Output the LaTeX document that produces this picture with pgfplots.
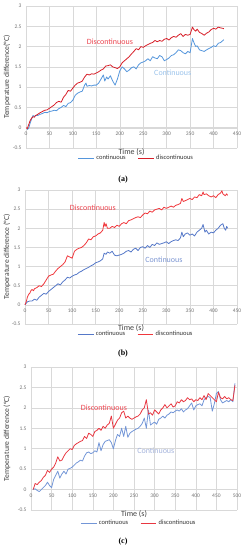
\documentclass[border=0pt]{standalone}
\usepackage{pgfplots}
\pgfplotsset{compat=1.18}
\usepackage{fontspec}
\setmainfont{Carlito}
\newfontfamily\capfont{Liberation Serif}
\definecolor{gridc}{RGB}{217,217,217}
\definecolor{tickc}{RGB}{115,115,115}
\definecolor{redA}{RGB}{215,30,40}
\definecolor{blueA}{RGB}{85,150,220}
\definecolor{redB}{RGB}{240,55,60}
\definecolor{blueB}{RGB}{85,120,200}
\definecolor{redC}{RGB}{232,55,65}
\definecolor{blueC}{RGB}{115,150,215}
\definecolor{annR}{RGB}{235,70,80}
\definecolor{annBA}{RGB}{155,195,235}
\definecolor{annBB}{RGB}{125,150,210}
\definecolor{annBC}{RGB}{165,180,220}
\pgfplotsset{
  panel/.style={
    scale only axis,
    axis x line=middle, axis y line=left,
    axis line style={draw=gridc,-},
    every inner x axis line/.append style={-},
    every outer y axis line/.append style={-},
    hide obscured x ticks=false, hide obscured y ticks=false,
    major tick length=0pt,
    grid=major, grid style={draw=gridc, line width=0.5pt},
    ymin=-0.5, ymax=3, ytick={-0.5,0,0.5,1,1.5,2,2.5,3},
    /pgf/number format/assume math mode=true,
    tick label style={font=\fontsize{5.5}{6}\selectfont, text=tickc},
    xticklabel style={anchor=north, yshift=-1pt},
    yticklabel style={anchor=east, xshift=-1pt},
    xlabel={Time (s)},
    x label style={at={(axis description cs:0.5,0)}, anchor=center, yshift=-4pt, font=\fontsize{8}{9}\selectfont, text=black!75},
    y label style={at={(axis description cs:0,0.5)}, anchor=center, font=\fontsize{7.6}{9}\selectfont, text=black!75},
    legend style={at={(axis description cs:0.5,0)}, anchor=center, yshift=-10pt, xshift=5pt, draw=none, fill=none,
      legend columns=2, font=\fontsize{6.5}{7}\selectfont, text=black!80,
      /tikz/every even column/.append style={column sep=10pt}},
    legend image code/.code={\draw[#1] (0cm,0cm) -- (0.55cm,0cm);},
    every axis plot/.append style={line width=0.8pt, line join=round},
    clip=false,
  }
}
\begin{document}
\begin{tikzpicture}
\useasboundingbox (0,0) rectangle (246pt,-550pt);
% ---------------- (a)
\begin{axis}[panel, at={(26pt,-148pt)}, anchor=south west, width=211pt, height=142pt,
  xmin=0, xmax=450, xtick={0,50,...,450},
  ylabel={Temperature difference(°C)}, y label style={yshift=19pt}]
\addplot[color=blueA] coordinates {(3,-0.05)(6,0.0)(8,0.08)(10,0.15)(13,0.25)(15,0.3)(18,0.27)(20,0.3)(25,0.3)(30,0.33)(35,0.35)(40,0.38)(45,0.37)(50,0.4)(55,0.41)(60,0.43)(65,0.42)(70,0.47)(75,0.5)(80,0.55)(85,0.52)(90,0.6)(95,0.62)(100,0.68)(105,0.8)(110,0.85)(115,0.88)(120,0.9)(125,1.05)(128,1.1)(130,1.02)(135,1.04)(140,1.03)(145,1.05)(150,1.05)(155,1.1)(160,1.2)(165,1.3)(168,1.15)(172,1.25)(175,1.2)(180,1.28)(185,1.15)(190,1.05)(195,1.2)(200,1.4)(205,1.5)(210,1.45)(215,1.38)(220,1.42)(225,1.48)(230,1.5)(235,1.45)(240,1.55)(245,1.6)(250,1.62)(255,1.65)(260,1.7)(265,1.65)(270,1.75)(275,1.72)(280,1.7)(285,1.78)(290,1.75)(295,1.65)(300,1.68)(305,1.72)(310,1.78)(315,1.8)(320,1.85)(325,1.92)(330,1.9)(335,1.85)(340,1.82)(345,1.88)(350,1.85)(355,2.2)(358,2.1)(362,2.0)(365,2.02)(370,1.92)(375,1.9)(380,1.88)(385,1.92)(390,1.95)(395,1.98)(400,2.02)(405,2.0)(410,2.08)(415,2.1)(420,2.15)(422,2.17)};
\addlegendentry{continuous}
\addplot[color=redA] coordinates {(0,0)(3,-0.02)(5,0.05)(8,0.15)(10,0.2)(13,0.25)(15,0.27)(18,0.26)(20,0.3)(25,0.33)(30,0.37)(35,0.4)(40,0.43)(45,0.44)(50,0.48)(55,0.52)(60,0.56)(65,0.62)(70,0.65)(75,0.63)(80,0.75)(85,0.82)(90,0.92)(95,0.9)(100,0.98)(105,1.05)(110,1.1)(115,1.12)(120,1.15)(125,1.25)(130,1.32)(135,1.3)(140,1.33)(145,1.32)(150,1.35)(155,1.38)(160,1.42)(165,1.45)(170,1.52)(175,1.53)(180,1.55)(185,1.5)(190,1.48)(195,1.46)(200,1.5)(205,1.6)(210,1.65)(215,1.7)(220,1.75)(225,1.82)(230,1.88)(235,1.95)(240,1.92)(245,2.0)(250,1.98)(255,2.02)(260,2.05)(265,2.08)(270,2.1)(275,2.15)(280,2.12)(285,2.15)(290,2.13)(295,2.18)(300,2.2)(305,2.16)(310,2.22)(315,2.25)(320,2.23)(325,2.28)(330,2.32)(335,2.25)(340,2.3)(345,2.28)(350,2.3)(355,2.48)(358,2.42)(362,2.38)(365,2.43)(370,2.35)(375,2.32)(380,2.28)(385,2.33)(390,2.36)(395,2.42)(400,2.45)(405,2.43)(410,2.48)(415,2.46)(420,2.45)(422,2.44)};
\addlegendentry{discontinuous}
\node[text=annR, font=\fontsize{8}{9}\selectfont] at (axis cs:179,2.11) {Discontinuous};
\node[text=annBA, font=\fontsize{8}{9}\selectfont] at (axis cs:313,1.35) {Continuous};
\end{axis}
\node[font=\capfont\bfseries\fontsize{8}{9}\selectfont] at (123pt,-180pt) {(a)};
% ---------------- (b)
\begin{axis}[panel, at={(25pt,-324pt)}, anchor=south west, width=212pt, height=134pt,
  xmin=0, xmax=450, xtick={0,50,...,450},
  ylabel={Temperature difference (°C)}, y label style={yshift=18pt}]
\addplot[color=blueB] coordinates {(0,0)(3,0.05)(5,0.08)(10,0.1)(15,0.1)(20,0.15)(25,0.12)(30,0.2)(35,0.25)(40,0.3)(45,0.28)(50,0.35)(55,0.4)(60,0.45)(65,0.5)(70,0.55)(75,0.52)(80,0.6)(85,0.65)(90,0.72)(95,0.7)(100,0.75)(105,0.78)(110,0.8)(115,0.85)(120,0.88)(125,0.92)(130,0.95)(135,0.98)(140,1.02)(145,1.05)(150,1.1)(155,1.12)(160,1.15)(165,1.2)(168,1.35)(172,1.32)(175,1.38)(180,1.35)(185,1.4)(190,1.3)(195,1.28)(200,1.3)(205,1.32)(210,1.35)(215,1.4)(220,1.42)(225,1.38)(230,1.45)(235,1.48)(240,1.42)(245,1.5)(250,1.52)(255,1.48)(260,1.55)(265,1.5)(270,1.58)(275,1.55)(280,1.62)(285,1.58)(290,1.6)(295,1.62)(300,1.65)(305,1.6)(310,1.65)(315,1.68)(320,1.7)(325,1.68)(330,1.75)(333,1.9)(336,1.78)(340,1.85)(345,1.88)(350,1.82)(355,1.85)(360,1.8)(365,1.9)(370,1.95)(375,2.0)(378,2.1)(382,1.9)(385,1.95)(390,1.85)(395,1.9)(400,1.88)(405,1.95)(410,2.0)(415,2.08)(420,2.12)(423,2.0)(426,1.95)(428,2.05)(430,2.0)};
\addlegendentry{continuous}
\addplot[color=redB] coordinates {(0,0)(3,0.1)(5,0.2)(8,0.28)(10,0.3)(13,0.38)(15,0.4)(18,0.37)(20,0.42)(25,0.45)(30,0.5)(35,0.48)(40,0.55)(45,0.65)(50,0.75)(55,0.78)(60,0.8)(65,0.88)(70,0.95)(75,1.0)(80,1.05)(85,1.12)(90,1.28)(95,1.25)(100,1.22)(105,1.4)(110,1.45)(115,1.48)(120,1.5)(125,1.55)(130,1.62)(135,1.72)(140,1.7)(145,1.78)(150,1.8)(155,1.85)(160,1.88)(165,1.95)(168,2.15)(170,2.05)(172,2.12)(175,2.0)(180,2.0)(185,2.05)(190,2.02)(195,2.08)(200,2.05)(205,2.12)(210,2.15)(215,2.12)(220,2.2)(225,2.22)(230,2.25)(235,2.28)(240,2.3)(245,2.28)(250,2.35)(255,2.4)(260,2.38)(265,2.45)(270,2.42)(275,2.48)(280,2.5)(285,2.52)(290,2.48)(295,2.55)(300,2.52)(305,2.55)(310,2.58)(315,2.55)(320,2.6)(325,2.62)(330,2.65)(333,2.78)(336,2.7)(340,2.72)(345,2.75)(350,2.78)(355,2.75)(360,2.82)(365,2.8)(370,2.88)(375,2.85)(378,2.95)(380,2.88)(385,2.9)(390,2.85)(395,2.82)(400,2.85)(405,2.8)(410,2.88)(415,2.92)(418,2.98)(420,2.9)(425,2.85)(428,2.9)(430,2.86)};
\addlegendentry{discontinuous}
\node[text=annR, font=\fontsize{8}{9}\selectfont] at (axis cs:144,2.53) {Discontinuous};
\node[text=annBB, font=\fontsize{8}{9}\selectfont] at (axis cs:295,1.17) {Continuous};
\end{axis}
\node[font=\capfont\bfseries\fontsize{8}{9}\selectfont] at (123pt,-354pt) {(b)};
% ---------------- (c)
\begin{axis}[panel, at={(31pt,-510pt)}, anchor=south west, width=206pt, height=143pt,
  xmin=0, xmax=500, xtick={0,50,...,500},
  ylabel={Temperature difference (°C)}, y label style={yshift=24pt},
  legend style={yshift=-3pt}]
\addplot[color=blueC] coordinates {(5,0)(10,0.02)(15,-0.02)(20,-0.05)(25,0.0)(30,0.05)(35,0.1)(40,0.18)(45,0.1)(50,0.05)(55,0.25)(60,0.35)(65,0.45)(70,0.28)(75,0.38)(80,0.45)(85,0.38)(90,0.5)(95,0.52)(100,0.55)(105,0.6)(110,0.65)(115,0.68)(120,0.72)(125,0.7)(130,0.82)(135,0.9)(140,0.92)(145,0.88)(150,0.9)(155,0.95)(160,0.92)(165,1.15)(170,0.95)(175,1.1)(180,1.18)(185,1.2)(190,1.22)(195,1.15)(200,1.0)(205,1.2)(210,1.35)(215,1.3)(220,1.5)(225,1.3)(230,1.55)(235,1.28)(240,1.38)(245,1.42)(250,1.45)(255,1.48)(260,1.5)(265,1.55)(270,1.62)(275,1.75)(280,1.5)(285,1.95)(290,1.58)(295,1.62)(300,1.65)(305,1.6)(310,1.72)(315,1.75)(320,1.8)(325,1.75)(330,1.82)(335,1.85)(340,1.9)(345,1.88)(350,1.92)(355,1.95)(360,1.92)(365,1.98)(370,1.9)(375,1.95)(380,1.98)(385,2.05)(390,2.12)(395,1.95)(400,2.05)(405,2.08)(410,2.1)(415,2.05)(420,2.2)(425,2.25)(430,2.28)(435,2.25)(440,1.92)(445,2.1)(450,2.35)(455,2.4)(460,2.2)(465,2.12)(470,2.15)(475,2.18)(480,2.15)(485,2.2)(490,2.15)(495,2.6)};
\addlegendentry{continuous}
\addplot[color=redC] coordinates {(5,0)(8,0.08)(10,0.15)(15,0.12)(20,0.18)(25,0.22)(30,0.3)(35,0.35)(40,0.47)(45,0.42)(50,0.5)(55,0.55)(60,0.65)(65,0.8)(70,0.7)(75,0.72)(80,0.82)(85,0.9)(90,0.95)(95,1.0)(100,0.98)(105,1.08)(110,1.12)(115,1.15)(120,1.18)(125,1.2)(130,1.3)(135,1.25)(140,1.38)(145,1.35)(150,1.3)(155,1.42)(160,1.45)(165,1.5)(170,1.45)(175,1.55)(180,1.5)(185,1.58)(190,1.62)(195,1.8)(200,1.5)(205,1.6)(210,1.7)(215,1.75)(220,1.88)(225,1.92)(230,1.75)(235,1.8)(240,1.75)(245,1.72)(250,1.75)(255,1.78)(260,1.8)(265,1.85)(270,1.95)(275,2.0)(280,2.2)(285,1.85)(290,1.88)(295,1.82)(300,1.95)(305,1.9)(310,1.85)(315,1.95)(320,2.0)(325,2.08)(330,2.0)(335,2.05)(340,2.1)(345,2.02)(350,2.05)(355,2.15)(360,2.12)(365,2.2)(370,2.15)(375,2.18)(380,2.25)(385,2.2)(390,2.22)(395,2.15)(400,2.2)(405,2.18)(410,2.25)(415,2.2)(420,2.3)(425,2.2)(430,2.35)(435,2.3)(440,2.25)(445,2.2)(450,2.15)(455,2.38)(460,2.25)(465,2.22)(470,2.28)(475,2.22)(480,2.25)(485,2.2)(490,2.18)(495,2.55)};
\addlegendentry{discontinuous}
\node[text=annR, font=\fontsize{8}{9}\selectfont] at (axis cs:177,2.0) {Discontinuous};
\node[text=annBC, font=\fontsize{8}{9}\selectfont] at (axis cs:303,0.94) {Continuous};
\end{axis}
\node[font=\capfont\bfseries\fontsize{8}{9}\selectfont] at (123pt,-542pt) {(c)};
\end{tikzpicture}
\end{document}
